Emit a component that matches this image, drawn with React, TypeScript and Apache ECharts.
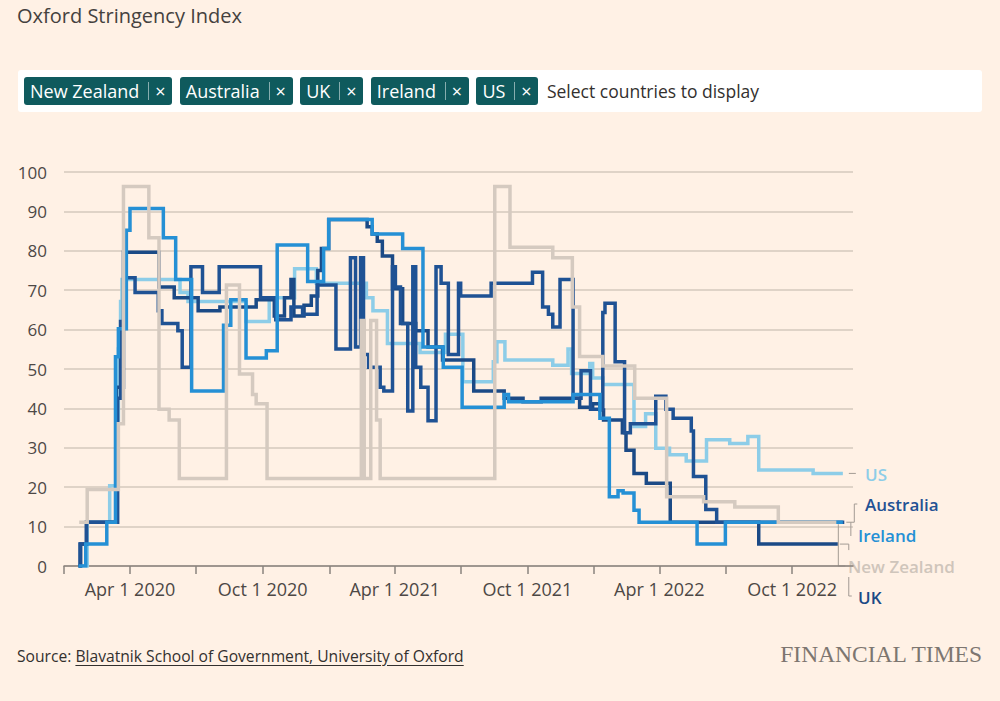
import React, { useEffect, useRef } from "react";
import * as echarts from "echarts";

type Pt = [string, number];

const title = "Oxford Stringency Index";
const countryChips = ["New Zealand", "Australia", "UK", "Ireland", "US"];
const yTicks = [0, 10, 20, 30, 40, 50, 60, 70, 80, 90, 100];
const quarterTicks = [
  "2020-01-01", "2020-04-01", "2020-07-01", "2020-10-01",
  "2021-01-01", "2021-04-01", "2021-07-01", "2021-10-01",
  "2022-01-01", "2022-04-01", "2022-07-01", "2022-10-01",
];
const labelTicks = ["2020-04-01", "2020-10-01", "2021-04-01", "2021-10-01", "2022-04-01", "2022-10-01"];
const xMin = "2020-01-01";
const xMax = "2022-12-24";

const newZealand: Pt[] = [
  ["2020-01-22", 11.11], ["2020-02-02", 19.44], ["2020-03-16", 36.11], ["2020-03-23", 96.3],
  ["2020-04-27", 83.33], ["2020-05-11", 39.81], ["2020-05-25", 37.04], ["2020-06-08", 22.22],
  ["2020-08-12", 71.3], ["2020-08-30", 48.7], ["2020-09-17", 43.52], ["2020-09-22", 41.2],
  ["2020-10-07", 22.22], ["2021-02-14", 62.3], ["2021-02-18", 22.22], ["2021-02-27", 62.3],
  ["2021-03-07", 37.04], ["2021-03-12", 22.22], ["2021-08-17", 96.3], ["2021-09-07", 80.93],
  ["2021-11-05", 78.24], ["2021-12-02", 65.74], ["2021-12-12", 53.15], ["2022-01-13", 50.74],
  ["2022-02-26", 42.59], ["2022-04-11", 17.59], ["2022-06-01", 16.3], ["2022-07-14", 15.0],
  ["2022-09-12", 11.11], ["2022-12-01", 11.11],
];

const unitedStates: Pt[] = [
  ["2020-01-21", 0], ["2020-02-02", 11.11], ["2020-03-04", 20.37], ["2020-03-13", 37.04],
  ["2020-03-16", 55.09], ["2020-03-19", 67.13], ["2020-03-21", 72.69], ["2020-06-09", 69.44],
  ["2020-06-20", 67.13], ["2020-09-08", 62.04], ["2020-10-10", 68.06], ["2020-11-14", 75.46],
  ["2020-12-14", 71.76], ["2021-02-21", 68.06], ["2021-03-02", 64.81], ["2021-03-22", 56.48],
  ["2021-05-06", 54.17], ["2021-06-10", 58.8], ["2021-07-04", 46.76], ["2021-08-15", 51.85],
  ["2021-08-20", 56.94], ["2021-08-31", 52.31], ["2021-11-05", 50.93], ["2021-11-26", 55.09],
  ["2021-12-01", 48.84], ["2021-12-26", 51.39], ["2021-12-30", 47.69], ["2022-01-13", 46.06],
  ["2022-02-25", 35.42], ["2022-03-13", 38.66], ["2022-03-27", 29.86], ["2022-04-15", 28.24],
  ["2022-05-08", 26.62], ["2022-06-05", 32.07], ["2022-07-07", 31.08], ["2022-08-01", 32.87],
  ["2022-08-16", 24.39], ["2022-10-30", 23.5], ["2022-12-10", 23.5],
];

const ireland: Pt[] = [
  ["2020-01-21", 0], ["2020-01-31", 5.56], ["2020-02-29", 11.11], ["2020-03-12", 53.1],
  ["2020-03-16", 60.19], ["2020-03-27", 85.19], ["2020-04-01", 90.74], ["2020-05-17", 83.33],
  ["2020-06-03", 72.69], ["2020-06-25", 44.44], ["2020-08-08", 61.11], ["2020-08-18", 67.59],
  ["2020-09-08", 52.78], ["2020-10-06", 54.63], ["2020-10-21", 81.48], ["2020-12-02", 72.22],
  ["2020-12-24", 80.56], ["2020-12-31", 87.96], ["2021-03-01", 84.26], ["2021-04-12", 80.56],
  ["2021-05-10", 55.56], ["2021-06-07", 50.46], ["2021-07-03", 40.28], ["2021-08-30", 43.52],
  ["2021-09-05", 41.67], ["2021-12-03", 43.52], ["2022-01-09", 37.5], ["2022-01-22", 17.59],
  ["2022-02-03", 19.07], ["2022-02-10", 18.52], ["2022-02-25", 14.17], ["2022-03-04", 11.11],
  ["2022-05-23", 5.56], ["2022-07-01", 11.11], ["2022-12-10", 11.11],
];

const unitedKingdom: Pt[] = [
  ["2020-01-21", 0], ["2020-01-24", 5.56], ["2020-02-01", 11.11], ["2020-03-13", 45.37],
  ["2020-03-23", 79.63], ["2020-05-11", 70.83], ["2020-06-01", 68.06], ["2020-07-04", 64.81],
  ["2020-08-03", 65.74], ["2020-09-22", 67.59], ["2020-10-17", 63.43], ["2020-10-31", 68.06],
  ["2020-11-09", 72.69], ["2020-11-13", 63.43], ["2020-11-27", 66.2], ["2020-12-07", 68.52],
  ["2020-12-16", 75.0], ["2020-12-21", 80.56], ["2020-12-31", 87.96], ["2021-02-22", 86.11],
  ["2021-03-01", 84.26], ["2021-03-08", 82.41], ["2021-03-15", 78.7], ["2021-03-29", 70.37],
  ["2021-04-12", 61.57], ["2021-04-30", 59.72], ["2021-05-17", 55.56], ["2021-06-06", 52.31],
  ["2021-07-19", 44.44], ["2021-08-30", 42.59], ["2021-09-25", 41.67], ["2021-10-20", 42.59],
  ["2021-12-12", 40.28], ["2021-12-30", 41.2], ["2022-01-09", 39.58], ["2022-01-14", 37.04],
  ["2022-02-09", 33.8], ["2022-02-14", 29.4], ["2022-02-25", 23.5], ["2022-03-14", 21.0],
  ["2022-04-16", 11.11], ["2022-08-16", 5.56], ["2022-12-03", 5.56],
];

const australia: Pt[] = [
  ["2020-01-21", 0], ["2020-01-23", 5.56], ["2020-02-01", 11.11], ["2020-03-15", 42.59],
  ["2020-03-19", 62.04], ["2020-03-24", 73.15], ["2020-04-08", 69.44], ["2020-05-10", 64.81],
  ["2020-05-15", 61.57], ["2020-06-06", 59.72], ["2020-06-12", 50.46], ["2020-06-24", 75.93],
  ["2020-07-10", 69.44], ["2020-08-02", 75.93], ["2020-09-28", 68.06], ["2020-10-19", 62.5],
  ["2020-11-09", 65.74], ["2020-11-25", 63.89], ["2020-12-15", 71.3], ["2021-01-10", 55.09],
  ["2021-01-30", 78.24], ["2021-02-06", 55.56], ["2021-02-13", 78.24], ["2021-02-17", 53.7],
  ["2021-02-24", 50.46], ["2021-03-12", 45.37], ["2021-03-17", 44.44], ["2021-03-29", 75.93],
  ["2021-04-02", 70.83], ["2021-04-09", 61.57], ["2021-04-19", 39.35], ["2021-04-26", 75.93],
  ["2021-04-30", 50.46], ["2021-05-07", 45.37], ["2021-05-17", 36.89], ["2021-05-28", 75.93],
  ["2021-06-04", 71.76], ["2021-06-14", 53.7], ["2021-06-28", 71.76], ["2021-07-01", 68.52],
  ["2021-08-12", 71.76], ["2021-10-08", 74.54], ["2021-10-22", 65.74], ["2021-10-30", 63.89],
  ["2021-11-05", 60.65], ["2021-11-15", 72.69], ["2021-12-03", 42.59], ["2021-12-14", 49.54],
  ["2021-12-27", 39.81], ["2022-01-13", 64.35], ["2022-01-16", 66.67], ["2022-01-30", 51.85],
  ["2022-02-12", 33.8], ["2022-02-20", 36.11], ["2022-03-27", 43.06], ["2022-04-10", 39.81],
  ["2022-04-20", 37.5], ["2022-05-15", 34.26], ["2022-05-18", 22.69], ["2022-06-04", 14.35],
  ["2022-06-19", 11.11], ["2022-12-12", 11.11],
];

const COLORS = {
  nz: "#d5cac0",
  us: "#8dcde8",
  ie: "#2590d5",
  uk: "#1b4a86",
  au: "#1f5294",
};

const FONT = "'Open Sans', 'Noto Sans', sans-serif";
const TEXT = "#4d4845";
const MONTHS = ["Jan", "Feb", "Mar", "Apr", "May", "Jun", "Jul", "Aug", "Sep", "Oct", "Nov", "Dec"];

const ts = (d: string) => {
  const [y, m, day] = d.split("-").map(Number);
  return Date.UTC(y, m - 1, day);
};
const toSeries = (pts: Pt[]) => pts.map(([d, v]) => [ts(d), v]);

function lineSeries(name: string, pts: Pt[], color: string) {
  return {
    name,
    type: "line",
    step: "end",
    data: toSeries(pts),
    showSymbol: false,
    symbol: "none",
    lineStyle: { color, width: 3.5, join: "miter" },
    itemStyle: { color },
    emphasis: { disabled: true },
    silent: true,
  };
}

export default function App() {
  const ref = useRef<HTMLDivElement>(null);

  useEffect(() => {
    const chart = echarts.init(ref.current!, null, { renderer: "svg" });
    chart.setOption({
      animation: false,
      grid: { left: 64, right: 147, top: 172, bottom: 135 },
      xAxis: {
        type: "value",
        min: ts(xMin),
        max: ts(xMax),
        axisLine: { show: true, onZero: false, lineStyle: { color: "#8a837e", width: 1.5 } },
        axisTick: {
          show: true,
          length: 8,
          lineStyle: { color: "#8a837e", width: 1.5 },
          customValues: quarterTicks.map(ts),
        },
        axisLabel: {
          customValues: labelTicks.map(ts),
          formatter: (v: number) => {
            const d = new Date(v);
            return `${MONTHS[d.getUTCMonth()]} ${d.getUTCDate()} ${d.getUTCFullYear()}`;
          },
          color: TEXT,
          fontSize: 18,
          fontFamily: FONT,
          margin: 14,
        },
        splitLine: { show: false },
      },
      yAxis: {
        type: "value",
        min: yTicks[0],
        max: yTicks[yTicks.length - 1],
        interval: 10,
        axisLine: { show: false },
        axisTick: { show: false },
        axisLabel: { color: TEXT, fontSize: 17, fontFamily: FONT, margin: 17 },
        splitLine: { lineStyle: { color: "#d4c8bd", width: 1.5 } },
      },
      series: [
        lineSeries("US", unitedStates, COLORS.us),
        lineSeries("UK", unitedKingdom, COLORS.uk),
        lineSeries("Australia", australia, COLORS.au),
        lineSeries("Ireland", ireland, COLORS.ie),
        lineSeries("New Zealand", newZealand, COLORS.nz),
      ],
    });

    const end = (pts: Pt[]) => {
      const last = pts[pts.length - 1];
      return chart.convertToPixel({ gridIndex: 0 }, [ts(last[0]), last[1]]) as number[];
    };
    const us = end(unitedStates);
    const au = end(australia);
    const ie = end(ireland);
    const nz = end(newZealand);
    const uk = end(unitedKingdom);
    const stroke = "#a39b94";
    const conn = (points: number[][]) => ({
      type: "polyline",
      silent: true,
      shape: { points },
      style: { stroke, lineWidth: 1, fill: null },
    });
    const label = (text: string, x: number, y: number, fill: string) => ({
      type: "text",
      x,
      y,
      silent: true,
      style: {
        text,
        fill,
        font: `600 17px ${FONT}`,
        textAlign: "left",
        textVerticalAlign: "middle",
      },
    });
    chart.setOption({
      graphic: [
        conn([[us[0] + 6, us[1]], [us[0] + 13, us[1]]]),
        conn([[au[0] + 2, au[1]], [au[0] + 10, au[1]], [au[0] + 10, 504], [au[0] + 13, 504]]),
        conn([[ie[0] + 8, ie[1]], [ie[0] + 8, 536]]),
        conn([[nz[0] + 2, nz[1] + 2], [nz[0] + 2, 566], [nz[0] + 9, 566]]),
        conn([[uk[0] + 2, uk[1]], [uk[0] + 11, uk[1]], [uk[0] + 11, uk[1] + 6]]),
        conn([[uk[0] + 11, 577], [uk[0] + 11, 596], [uk[0] + 14, 596]]),
        label("US", 865, 474, COLORS.us),
        label("Australia", 865, 504, COLORS.au),
        label("Ireland", 858, 535, COLORS.ie),
        label("New Zealand", 848, 566, "#cfc5bb"),
        label("UK", 858, 597, COLORS.uk),
      ],
    });
    return () => chart.dispose();
  }, []);

  const chip = (name: string) => (
    <div
      key={name}
      style={{
        display: "flex",
        alignItems: "center",
        height: 28,
        background: "#0f5a5d",
        color: "#ffffff",
        borderRadius: 3,
        paddingLeft: 6,
        paddingRight: 1,
        marginRight: 7.5,
        fontSize: 18,
        lineHeight: "28px",
        whiteSpace: "nowrap",
      }}
    >
      <span>{name}</span>
      <span style={{ display: "inline-block", width: 1, height: 18, background: "rgba(255,255,255,0.5)", marginLeft: 9 }} />
      <span style={{ display: "inline-block", width: 22, textAlign: "center", fontSize: 18 }}>×</span>
    </div>
  );

  return (
    <div
      style={{
        position: "absolute",
        left: 0,
        top: 0,
        width: 1000,
        height: 701,
        background: "#fff1e5",
        overflow: "hidden",
        fontFamily: FONT,
      }}
    >
      <div ref={ref} style={{ position: "absolute", left: 0, top: 0, width: 1000, height: 701 }} />
      <div style={{ position: "absolute", left: 17, top: 3, fontSize: 20, lineHeight: "26px", color: "#45413e", whiteSpace: "nowrap" }}>
        {title}
      </div>
      <div
        style={{
          position: "absolute",
          left: 18,
          top: 70,
          width: 964,
          height: 42,
          background: "#ffffff",
          borderRadius: 3,
          display: "flex",
          alignItems: "center",
          paddingLeft: 6,
          boxSizing: "border-box",
        }}
      >
        {countryChips.map(chip)}
        <span style={{ fontSize: 17.5, color: "#33302e", marginLeft: 1, whiteSpace: "nowrap" }}>Select countries to display</span>
      </div>
      <div
        style={{
          position: "absolute",
          left: 17,
          top: 645,
          fontSize: 17,
          lineHeight: "22px",
          color: "#33302e",
          whiteSpace: "nowrap",
          transform: "scaleX(0.92)",
          transformOrigin: "left center",
        }}
      >
        Source: <span style={{ textDecoration: "underline", textUnderlineOffset: 3 }}>Blavatnik School of Government, University of Oxford</span>
      </div>
      <div
        style={{
          position: "absolute",
          right: 18,
          top: 640,
          fontSize: 23.5,
          lineHeight: "28px",
          color: "#7d7670",
          fontFamily: "'Liberation Serif', 'DejaVu Serif', serif",
          whiteSpace: "nowrap",
        }}
      >
        FINANCIAL TIMES
      </div>
    </div>
  );
}
